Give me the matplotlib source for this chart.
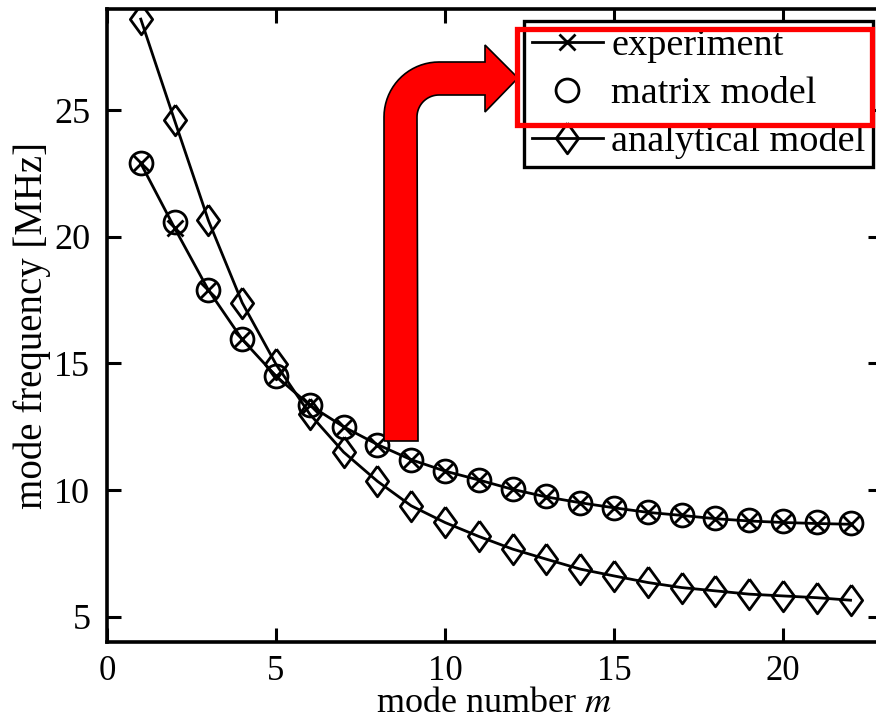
import numpy as np
import matplotlib
matplotlib.use("Agg")
import matplotlib.pyplot as plt
from matplotlib.path import Path
from matplotlib.patches import PathPatch, Rectangle
from matplotlib.transforms import Affine2D

plt.rcParams['font.family'] = ['Liberation Serif', 'DejaVu Serif']
plt.rcParams['mathtext.fontset'] = 'stix'

mode = list(range(1, 23))
matrix_model = [22.9, 20.6, 17.9, 15.95, 14.5, 13.35, 12.5, 11.8, 11.2, 10.75,
                10.4, 10.05, 9.75, 9.5, 9.3, 9.14, 9.03, 8.9, 8.82, 8.76, 8.72, 8.7]
experiment = [22.9, 20.35, 17.9, 15.95, 14.5, 13.35, 12.5, 11.8, 11.2, 10.75,
              10.4, 10.03, 9.73, 9.5, 9.3, 9.12, 9.0, 8.87, 8.78, 8.72, 8.68, 8.65]
analytical = [28.6, 24.6, 20.65, 17.4, 14.97, 13.0, 11.5, 10.35, 9.38, 8.72,
              8.17, 7.67, 7.27, 6.88, 6.61, 6.35, 6.15, 6.02, 5.89, 5.82, 5.75, 5.65]

W, H = 876, 727
fig = plt.figure(figsize=(W / 100, H / 100), dpi=100)
ax = fig.add_axes([107 / W, 1 - 642 / H, 775 / W, 633 / H])

# tall diamond marker
diamond = [(0, 0.5), (0.365, 0), (0, -0.5), (-0.365, 0), (0, 0.5)]

ax.plot(mode, analytical, color='k', lw=2.0, marker=diamond, ms=22,
        mfc='none', mec='k', mew=2.0, label='analytical model')
ax.plot(mode, matrix_model, ls='none', marker='o', ms=16.5,
        mfc='none', mec='k', mew=2.0, label='matrix model')
ax.plot(mode, experiment, color='k', lw=2.0, marker='x', ms=11,
        mew=2.0, label='experiment')

ax.set_xlim(0, 22.93)
ax.set_ylim(4, 29)
ax.set_xticks([0, 5, 10, 15, 20])
ax.set_yticks([5, 10, 15, 20, 25])
ax.tick_params(direction='in', length=10, width=2.2, labelsize=26,
               top=True, right=True, pad=12)
ax.tick_params(axis='x', labelsize=25, pad=9)
for s in ax.spines.values():
    s.set_linewidth(2.6)

ax.set_xlabel('mode number $m$', fontsize=26, labelpad=0)
ax.set_ylabel('mode frequency [MHz]', fontsize=28, labelpad=2)

h, l = ax.get_legend_handles_labels()
leg = ax.legend(h[::-1], l[::-1], loc='upper right', fontsize=27.5,
                bbox_to_anchor=(873 / W, 1 - 21 / H), bbox_transform=fig.transFigure,
                borderaxespad=0, fancybox=False, framealpha=1, edgecolor='k',
                handlelength=1.85, handletextpad=0.22, labelspacing=0.34,
                borderpad=0.2)
leg.get_frame().set_linewidth(2.4)

# pixel coordinates (y from top) -> figure
px = Affine2D().scale(1 / W, -1 / H).translate(0, 1) + fig.transFigure

cx, cy, R, r = 439, 117, 55, 22
t = np.linspace(np.pi, np.pi / 2, 20)
outer = [(cx + R * np.cos(a), cy - R * np.sin(a)) for a in t]
inner = [(cx + r * np.cos(a), cy - r * np.sin(a)) for a in t[::-1]]
verts = [(384, 441)] + outer + [(485, 62), (485, 45), (518, 78), (485, 112), (485, 95)] \
    + inner + [(418, 441), (384, 441)]
arrow = PathPatch(Path(verts), facecolor='red', edgecolor='k', lw=1.2,
                  transform=px, clip_on=False)
fig.add_artist(arrow)

box = Rectangle((517, 29), 355, 96, fill=False, edgecolor='red', lw=3.8,
                transform=px, clip_on=False)
fig.add_artist(box)

fig.savefig('out.png', dpi=100)
